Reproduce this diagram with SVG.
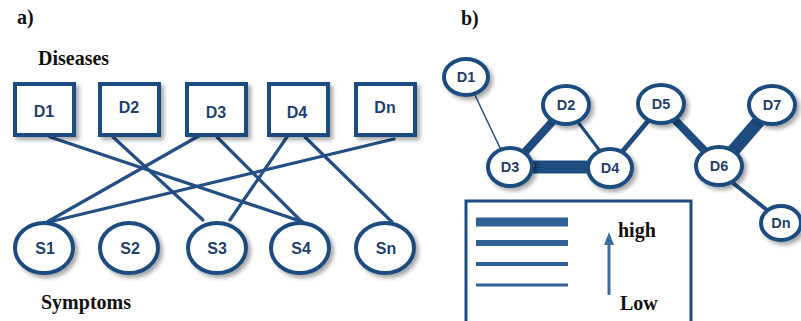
<svg xmlns="http://www.w3.org/2000/svg" width="801" height="321" viewBox="0 0 801 321">
<defs>
<filter id="sh" x="-30%" y="-30%" width="170%" height="170%">
<feDropShadow dx="3" dy="3" stdDeviation="2" flood-color="#000" flood-opacity="0.35"/>
</filter>
</defs>
<style>
.box{fill:#fff;stroke:#1e4c80;stroke-width:4;filter:url(#sh)}
.nd{fill:#fff;stroke:#1e4c80;stroke-width:4;filter:url(#sh)}
.lbl{font-family:"Liberation Sans",Arial,sans-serif;font-weight:bold;font-size:16px;fill:#1f406b;text-anchor:middle}
.lblb{font-family:"Liberation Sans",Arial,sans-serif;font-weight:bold;font-size:14.5px;fill:#1f406b;text-anchor:middle}
.ttl{font-family:"Liberation Serif","Times New Roman",serif;font-weight:bold;font-size:20px;fill:#111}
.e{stroke:#234f84;stroke-width:3.2;fill:none;stroke-linecap:round}
.eb{stroke:#1e4c80;fill:none}
.lg{stroke:#2f6096;fill:none}
</style>
<rect width="801" height="321" fill="#fff"/>

<text class="ttl" x="17" y="24" font-size="19">a)</text>
<text class="ttl" x="38" y="65">Diseases</text>
<text class="ttl" x="41" y="309">Symptoms</text>
<text class="ttl" x="461" y="25" font-size="19">b)</text>

<g id="connectors-a">
<line class="e" x1="50" y1="137" x2="303" y2="222"/>
<line class="e" x1="113" y1="137" x2="203" y2="220"/>
<line class="e" x1="204" y1="133" x2="47" y2="222"/>
<line class="e" x1="217" y1="137" x2="302" y2="222"/>
<line class="e" x1="289" y1="134" x2="230" y2="220"/>
<line class="e" x1="305" y1="137" x2="392" y2="222"/>
<line class="e" x1="394" y1="139" x2="49" y2="222"/>
</g>

<g id="D1a"><rect class="box" x="15" y="84" width="59" height="51"/><text class="lbl" x="44" y="117">D1</text></g>
<g id="D2a"><rect class="box" x="100" y="84" width="59" height="51"/><text class="lbl" x="129" y="113">D2</text></g>
<g id="D3a"><rect class="box" x="187" y="84" width="59" height="51"/><text class="lbl" x="216" y="118">D3</text></g>
<g id="D4a"><rect class="box" x="269" y="84" width="59" height="51"/><text class="lbl" x="297" y="118">D4</text></g>
<g id="Dna"><rect class="box" x="356" y="84" width="59" height="51"/><text class="lbl" x="385" y="113">Dn</text></g>

<g id="S1"><ellipse class="nd" cx="44" cy="248" rx="29" ry="25"/><text class="lbl" x="45" y="254">S1</text></g>
<g id="S2"><ellipse class="nd" cx="129" cy="248" rx="29" ry="25"/><text class="lbl" x="130" y="254">S2</text></g>
<g id="S3"><ellipse class="nd" cx="217" cy="248" rx="29" ry="25"/><text class="lbl" x="217" y="254">S3</text></g>
<g id="S4"><ellipse class="nd" cx="300" cy="248" rx="29" ry="25"/><text class="lbl" x="301" y="254">S4</text></g>
<g id="Sn"><ellipse class="nd" cx="385" cy="248" rx="29" ry="25"/><text class="lbl" x="386" y="254">Sn</text></g>

<g id="connectors-b">
<line class="eb" stroke-width="1.5" x1="474" y1="93" x2="501" y2="150"/>
<line class="eb" stroke-width="8" x1="553" y1="121" x2="524" y2="153"/>
<line class="eb" stroke-width="3" x1="578" y1="122" x2="600" y2="151"/>
<line class="eb" stroke-width="13" x1="530" y1="167" x2="590" y2="167"/>
<line class="eb" stroke-width="5" x1="622" y1="152" x2="648" y2="121"/>
<line class="eb" stroke-width="8" x1="675" y1="120" x2="705" y2="151"/>
<line class="eb" stroke-width="13" x1="733" y1="151" x2="759" y2="121"/>
<line class="eb" stroke-width="4" x1="733" y1="183" x2="767" y2="210"/>
</g>

<g id="D1b"><ellipse class="nd" cx="466" cy="77" rx="22" ry="18"/><text class="lblb" x="466" y="82">D1</text></g>
<g id="D2b"><ellipse class="nd" cx="566" cy="105" rx="23" ry="19"/><text class="lblb" x="566" y="110">D2</text></g>
<g id="D3b"><ellipse class="nd" cx="510" cy="167" rx="22" ry="19"/><text class="lblb" x="510" y="172">D3</text></g>
<g id="D4b"><ellipse class="nd" cx="610" cy="168" rx="22" ry="19"/><text class="lblb" x="610" y="173">D4</text></g>
<g id="D5b"><ellipse class="nd" cx="661" cy="104" rx="23" ry="19"/><text class="lblb" x="661" y="109">D5</text></g>
<g id="D6b"><ellipse class="nd" cx="719" cy="166" rx="23" ry="19"/><text class="lblb" x="719" y="171">D6</text></g>
<g id="D7b"><ellipse class="nd" cx="772" cy="105" rx="23" ry="19"/><text class="lblb" x="772" y="110">D7</text></g>
<g id="Dnb"><ellipse class="nd" cx="781" cy="223" rx="20" ry="17"/><text class="lblb" x="781" y="228" font-size="13.5">Dn</text></g>

<g id="legend">
<path d="M466,323 L466,201 L691,201 L691,323" fill="none" stroke="#1e4c80" stroke-width="3"/>
<line class="lg" stroke-width="9" x1="476" y1="222" x2="568" y2="222"/>
<line class="lg" stroke-width="6" x1="476" y1="243" x2="568" y2="243"/>
<line class="lg" stroke-width="4" x1="476" y1="264" x2="568" y2="264"/>
<line class="lg" stroke-width="3" x1="476" y1="285" x2="568" y2="285"/>
<line x1="609" y1="295" x2="609" y2="243" stroke="#3a6d9c" stroke-width="3"/>
<polygon points="604,245 609,232 614,245" fill="#3a6d9c"/>
<text class="ttl" x="618" y="237">high</text>
<text class="ttl" x="620" y="310">Low</text>
</g>
</svg>
